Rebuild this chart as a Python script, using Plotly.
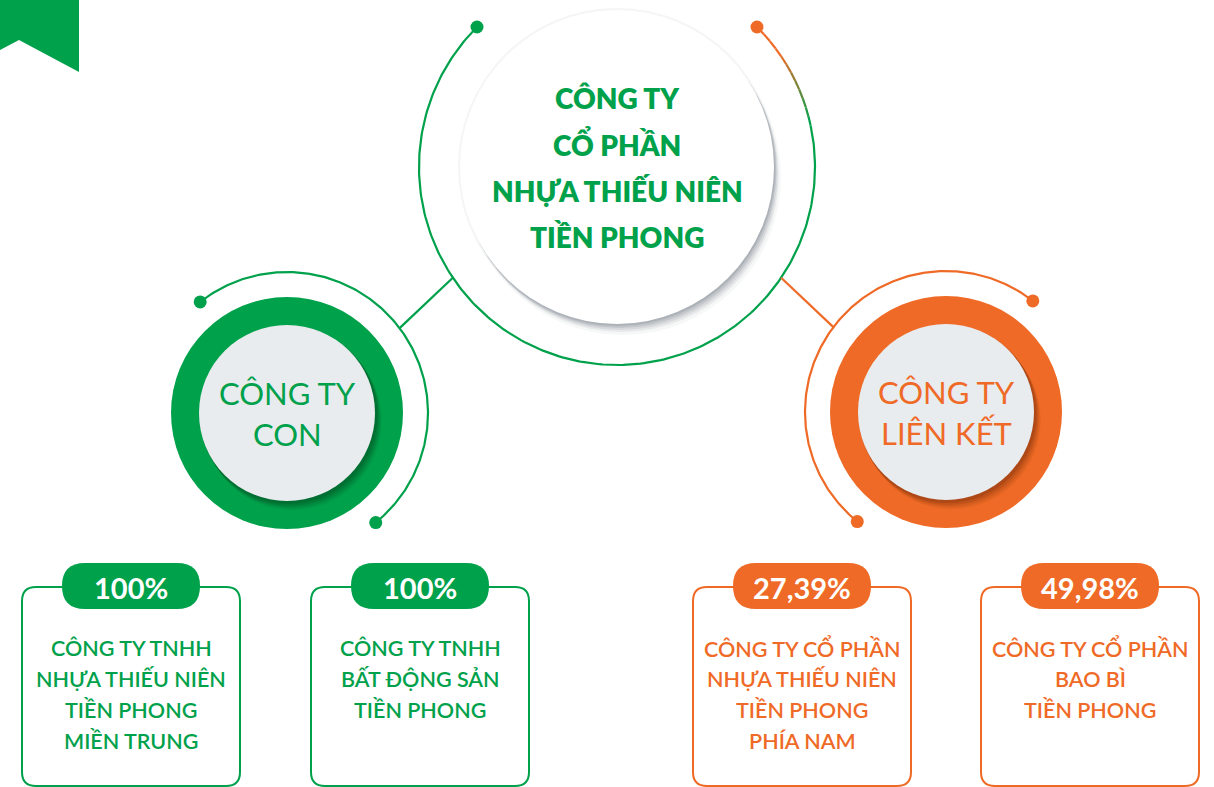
import numpy as np
import plotly.graph_objects as go

W, H = 1214, 787
GREEN = "#00A14B"
ORANGE = "#EF6A26"
GRAY = "#E9ECEF"
FONT = "Lato"

# ---- content ----
main_title = ["CÔNG TY", "CỔ PHẦN", "NHỰA THIẾU NIÊN", "TIỀN PHONG"]
group_labels = [["CÔNG TY", "CON"], ["CÔNG TY", "LIÊN KẾT"]]
pct_labels = ["100%", "100%", "27,39%", "49,98%"]
company_names = [
    ["CÔNG TY TNHH", "NHỰA THIẾU NIÊN", "TIỀN PHONG", "MIỀN TRUNG"],
    ["CÔNG TY TNHH", "BẤT ĐỘNG SẢN", "TIỀN PHONG"],
    ["CÔNG TY CỔ PHẦN", "NHỰA THIẾU NIÊN", "TIỀN PHONG", "PHÍA NAM"],
    ["CÔNG TY CỔ PHẦN", "BAO BÌ", "TIỀN PHONG"],
]
company_group = [0, 0, 1, 1]

# ---- layout geometry ----
group_colors = [GREEN, ORANGE]
main_c = (617, 167)
main_r = 157
main_arc_r = 198
group_c = [(287, 413), (946, 412)]
group_outer_r = 116
group_inner_r = 88
group_arc_r = 141
group_arc_ang = [(128, -51), (52, 231)]
box_x0 = [22, 311, 693, 981]
box_w = 218
box_top = 587
box_bot = 786
pill_w, pill_h, pill_y = 138, 46, 586
line_y0, line_dy = 648, 31

fig = go.Figure()
shapes = []
annots = []


def circ(cx, cy, r, fill, line=None, lw=0):
    return dict(type="circle", xref="x", yref="y", x0=cx - r, x1=cx + r,
                y0=cy - r, y1=cy + r, fillcolor=fill,
                line=dict(color=line or "rgba(0,0,0,0)", width=lw), layer="above")


def arc_pts(cx, cy, r, a0, a1, n=240):
    a = np.radians(np.linspace(a0, a1, n))
    return cx + r * np.cos(a), cy - r * np.sin(a)


def add_line(x, y, color, w=2.2):
    fig.add_trace(go.Scatter(x=list(x), y=list(y), mode="lines",
                             line=dict(color=color, width=w), hoverinfo="skip",
                             showlegend=False))


def add_dot(x, y, color, s=13):
    fig.add_trace(go.Scatter(x=[x], y=[y], mode="markers",
                             marker=dict(color=color, size=s), hoverinfo="skip",
                             showlegend=False))


# ribbon top-left
shapes.append(dict(type="path", xref="x", yref="y",
                   path="M0,0 L79,0 L79,72 L19,40 L0,50 Z",
                   fillcolor=GREEN, line=dict(width=0), layer="above"))

# main circle shadow + circle
cx, cy = main_c
for off, rr, a in [(10, 158, 0.06), (8, 157, 0.10), (6, 157, 0.14), (4, 157, 0.18),
                   (2, 157, 0.18), (0, 159, 0.07)]:
    shapes.append(circ(cx + off * 0.6, cy + off, rr, f"rgba(105,115,125,{a})"))
shapes.append(circ(cx, cy, main_r, "white"))

# big arc (green) with orange segment near orange dot
gx, gy = arc_pts(cx, cy, main_arc_r, 135, 372)
add_line(gx, gy, GREEN)
n_seg = 12
angs = np.linspace(45, 12, n_seg + 1)
c0 = np.array([0xEF, 0x6A, 0x26]); c1 = np.array([0x00, 0xA1, 0x4B])
for i in range(n_seg):
    t = i / (n_seg - 1)
    t = min(1, max(0, (t - 0.3) / 0.7))
    col = c0 * (1 - t) + c1 * t
    sx, sy = arc_pts(cx, cy, main_arc_r, angs[i], angs[i + 1], 20)
    add_line(sx, sy, "rgb(%d,%d,%d)" % tuple(col.astype(int)))
ang = np.radians(135)
add_dot(cx + main_arc_r * np.cos(ang), cy - main_arc_r * np.sin(ang), GREEN)
ang = np.radians(45)
add_dot(cx + main_arc_r * np.cos(ang), cy - main_arc_r * np.sin(ang), ORANGE)

# connectors from big arc to group arcs
for g, (a_main, a_grp) in enumerate([(214, 37), (326, 143)]):
    a = np.radians(a_main)
    x0 = cx + main_arc_r * np.cos(a)
    y0 = cy - main_arc_r * np.sin(a)
    gcx, gcy = group_c[g]
    a2 = np.radians(a_grp)
    x1 = gcx + group_arc_r * np.cos(a2)
    y1 = gcy - group_arc_r * np.sin(a2)
    add_line([x0, x1], [y0, y1], group_colors[g])

# group circles
shadow_cols = ["rgba(0,70,30,{})", "rgba(120,45,10,{})"]
for g in range(2):
    gcx, gcy = group_c[g]
    col = group_colors[g]
    a0, a1 = group_arc_ang[g]
    ax, ay = arc_pts(gcx, gcy, group_arc_r, a0, a1)
    add_line(ax, ay, col)
    for a in (a0, a1):
        ar = np.radians(a)
        add_dot(gcx + group_arc_r * np.cos(ar), gcy - group_arc_r * np.sin(ar), col)
    shapes.append(circ(gcx, gcy, group_outer_r, col))
    for off, rr, al in [(8, 89, 0.10), (6, 89, 0.15), (4, 89, 0.2), (2, 89, 0.25)]:
        shapes.append(circ(gcx + off * 0.7, gcy + off, rr, shadow_cols[g].format(al)))
    shapes.append(circ(gcx, gcy, group_inner_r, GRAY))
    for i, t in enumerate(group_labels[g]):
        annots.append(dict(x=gcx, y=gcy - 20 + i * 41, text=t, showarrow=False,
                           xref="x", yref="y", xanchor="center", yanchor="middle",
                           font=dict(family=FONT, size=31, color=col)))

# main title
for i, t in enumerate(main_title):
    annots.append(dict(x=cx, y=98 + i * 46.3, text=t, showarrow=False,
                       xref="x", yref="y", xanchor="center", yanchor="middle",
                       font=dict(family=FONT, size=28, color=GREEN, weight=800)))


def rrect(x0, y0, x1, y1, r):
    return (f"M{x0+r},{y0} L{x1-r},{y0} Q{x1},{y0} {x1},{y0+r} L{x1},{y1-r} "
            f"Q{x1},{y1} {x1-r},{y1} L{x0+r},{y1} Q{x0},{y1} {x0},{y1-r} "
            f"L{x0},{y0+r} Q{x0},{y0} {x0+r},{y0} Z")


# boxes
for k in range(4):
    col = group_colors[company_group[k]]
    x0 = box_x0[k]
    x1 = x0 + box_w
    shapes.append(dict(type="path", xref="x", yref="y",
                       path=rrect(x0, box_top, x1, box_bot, 14),
                       fillcolor="white", line=dict(color=col, width=2), layer="above"))
    pcx = (x0 + x1) / 2
    shapes.append(dict(type="path", xref="x", yref="y",
                       path=rrect(pcx - pill_w / 2, pill_y - pill_h / 2,
                                  pcx + pill_w / 2, pill_y + pill_h / 2, 23),
                       fillcolor=col, line=dict(width=0), layer="above"))
    annots.append(dict(x=pcx, y=pill_y + 1, text=pct_labels[k], showarrow=False,
                       xref="x", yref="y", xanchor="center", yanchor="middle",
                       font=dict(family=FONT, size=29, color="white", weight=700)))
    for i, t in enumerate(company_names[k]):
        annots.append(dict(x=pcx, y=line_y0 + i * line_dy, text=t, showarrow=False,
                           xref="x", yref="y", xanchor="center", yanchor="middle",
                           font=dict(family=FONT, size=21.5, color=col, weight=600)))

fig.update_layout(
    width=W, height=H, margin=dict(l=0, r=0, t=0, b=0),
    paper_bgcolor="white", plot_bgcolor="white",
    xaxis=dict(range=[0, W], visible=False, fixedrange=True),
    yaxis=dict(range=[H, 0], visible=False, fixedrange=True),
    shapes=shapes, annotations=annots, showlegend=False,
)
fig.write_html("out.html", config={"displayModeBar": False},
               post_script="document.body.style.margin='0';document.body.style.overflow='hidden';")
